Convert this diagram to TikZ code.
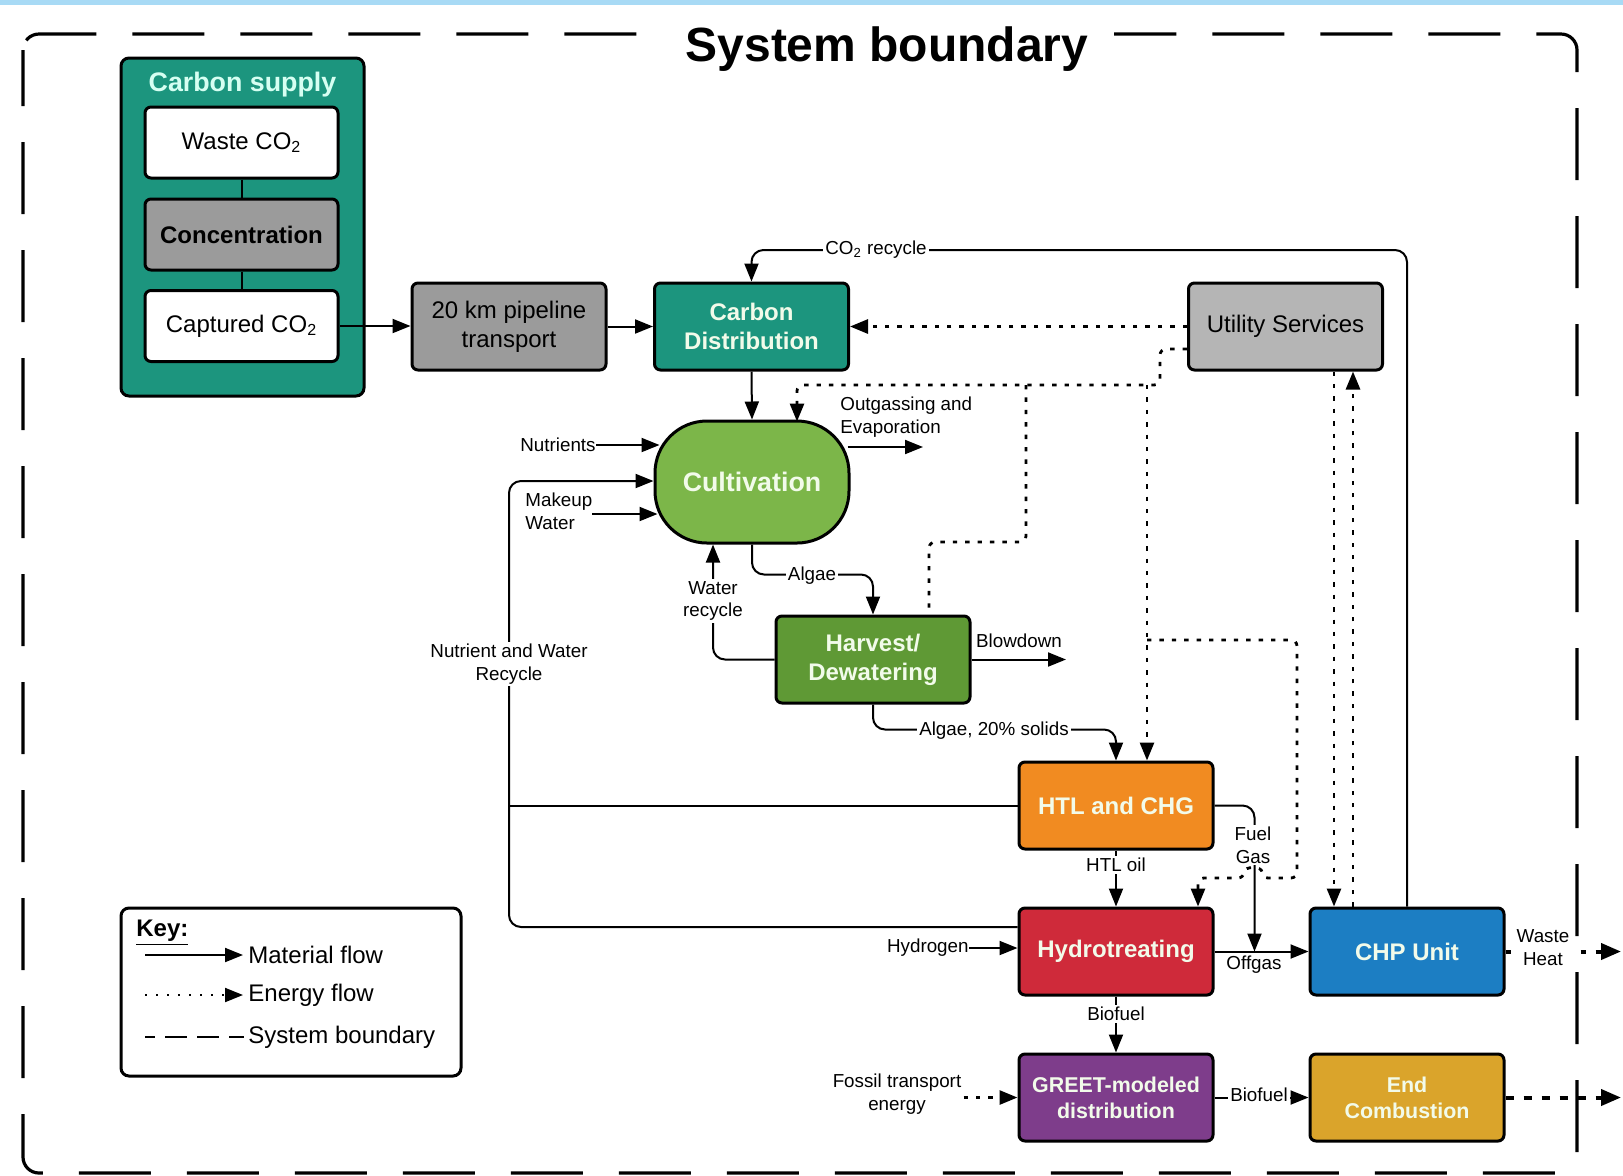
\documentclass[tikz,border=0pt]{standalone}
\usepackage{fontspec}
\setmainfont{Liberation Sans}
\usetikzlibrary{arrows.meta,calc}
\definecolor{tealc}{HTML}{1C957E}
\definecolor{grayc}{HTML}{9B9B9B}
\definecolor{utilc}{HTML}{B5B5B5}
\definecolor{cultc}{HTML}{7CB649}
\definecolor{harvc}{HTML}{5F9935}
\definecolor{htlc}{HTML}{F18B21}
\definecolor{hydc}{HTML}{CF2A3A}
\definecolor{chpc}{HTML}{1C7EC3}
\definecolor{greetc}{HTML}{7E3D8B}
\definecolor{goldc}{HTML}{DAA42B}
\definecolor{boxtext}{HTML}{F2FBEA}
\definecolor{supplytext}{HTML}{D6FFF2}
\definecolor{topblue}{HTML}{A8DAF5}
\begin{document}
\begin{tikzpicture}[x=0.5pt,y=-0.5pt,
  box/.style={draw=black, line width=1.5pt, rounded corners=3pt, minimum width=97pt, minimum height=43.5pt, align=center, inner sep=2pt, font=\bfseries\fontsize{12}{14.5}\selectfont, text=boxtext},
  sub/.style={draw=black, line width=1.5pt, rounded corners=3pt, minimum width=96.5pt, minimum height=35.5pt, align=center, inner sep=2pt, font=\fontsize{12}{14.5}\selectfont, text=black},
  plainfont/.style={font=\fontsize{12}{14.5}\selectfont},
  smallfont/.style={font=\fontsize{10.7}{13}\selectfont\bfseries},
  mat/.style={draw=black, line width=1pt, -{Triangle[length=9pt,width=7pt]}},
  solid line/.style={draw=black, line width=1pt},
  en/.style={draw=black, line width=1.4pt, dash pattern=on 2.2pt off 4pt, -{Triangle[length=9pt,width=7pt]}},
  enline/.style={draw=black, line width=1.4pt, dash pattern=on 2.2pt off 4pt},
  enbig/.style={draw=black, line width=2pt, dash pattern=on 4pt off 5pt, -{Triangle[length=10pt,width=8pt]}},
  lbl/.style={font=\fontsize{9.4}{11.4}\selectfont, inner sep=1pt, fill=white, align=center},
  lblnf/.style={font=\fontsize{9.4}{11.4}\selectfont, inner sep=1pt, align=center},
  bound/.style={draw=black, line width=1.6pt, dash pattern=on 36pt off 18pt, dash phase=8pt}
]
\useasboundingbox (0,0) rectangle (1623,1175);
\fill[topblue] (0,0) rectangle (1623,5);

% system boundary
\draw[bound, rounded corners=8pt] (23,34) rectangle (1577,1173);
\node[font=\bfseries\fontsize{24}{28}\selectfont, fill=white, inner xsep=13pt, inner ysep=2pt] (title) at (887,49) {System boundary};

% carbon supply group
\node[box, fill=tealc, minimum width=121.5pt, minimum height=169pt, rounded corners=4pt] (supply) at (242.5,227) {};
\node[font=\bfseries\fontsize{13.4}{16}\selectfont, text=supplytext] (supplyt) at (242.5,85) {Carbon supply};
\node[sub, fill=white] (waste) at (241.5,142.5) {Waste CO\textsubscript{2}};
\node[sub, fill=grayc, font=\bfseries\fontsize{12}{14.5}\selectfont] (conc) at (241.5,234.5) {Concentration};
\node[sub, fill=white] (capt) at (241.5,326) {Captured CO\textsubscript{2}};
\draw[solid line] (waste.south) -- (conc.north);
\draw[solid line] (conc.south) -- (capt.north);

% process boxes
\node[box, fill=grayc, text=black, plainfont] (pipe) at (509,326.5) {20 km pipeline\\transport};
\node[box, fill=tealc] (cdist) at (751.5,326.5) {Carbon\\Distribution};
\node[box, fill=utilc, text=black, plainfont] (util) at (1285.5,326.5) {Utility Services};
\node[box, fill=cultc, minimum height=61pt, rounded corners=26pt, font=\bfseries\fontsize{13.4}{16}\selectfont] (cult) at (752,482) {Cultivation};
\node[box, fill=harvc] (harv) at (873,659.5) {Harvest/\\Dewatering};
\node[box, fill=htlc] (htl) at (1116,805.5) {HTL and CHG};
\node[box, fill=hydc] (hydro) at (1116,951.5) {Hydrotreating};
\node[box, fill=chpc] (chp) at (1407,951.5) {CHP Unit};
\node[box, fill=greetc, smallfont] (greet) at (1116,1097.5) {GREET-modeled\\distribution};
\node[box, fill=goldc, smallfont] (endc) at (1407,1097.5) {End\\Combustion};

% free-end coordinates
\coordinate (r1) at (1407,250);
\coordinate (r2) at (751.5,250);
\coordinate (d1) at (1160,349);
\coordinate (d2) at (1160,385);
\coordinate (d3) at (797,385);
\coordinate (b1) at (1026,385);
\coordinate (b2) at (1026,542);
\coordinate (b3) at (929,542);
\coordinate (b4) at (1147,385);
\coordinate (b5) at (1147,640);
\coordinate (b6) at (1297,640);
\coordinate (b7) at (1297,878);
\coordinate (nw) at (509,481);
\coordinate (mws) at (592,514);
\coordinate (ogend) at (923,447);
\coordinate (bdend) at (1066,659.5);
\coordinate (whend) at (1621,951.5);
\coordinate (ecend) at (1621,1097.5);

% material flows
\draw[mat] (capt.east) -- (pipe.west |- capt.east);
\draw[mat] (pipe.east) -- (cdist.west);
\draw[mat, rounded corners=6pt] (chp.north) -- (r1) -- (r2) -- (cdist.north);
\draw[mat] (cdist.south) -- (cult.north);
\draw[mat] ($(cult.east)+(-3,-35)$) -- (ogend);
\draw[mat, rounded corners=6pt] (cult.south) |- ($(harv.north)+(0,-40)$) -- (harv.north);
\draw[mat, rounded corners=6pt] (harv.west) -| ($(cult.south)+(-39,0)$);
\draw[mat] (harv.east) -- (bdend);
\draw[mat, rounded corners=6pt] (harv.south) |- ($(htl.north)+(0,-31)$) -- (htl.north);
\draw[mat] (htl.south) -- (hydro.north);
\draw[mat, rounded corners=6pt] (htl.east) -| ($(hydro.east)+(40,0)$);
\draw[mat] (hydro.east) -- (chp.west);
\draw[mat] (hydro.south) -- (greet.north);
\draw[mat] (greet.east) -- (endc.west);
\draw[mat, rounded corners=6pt] ($(hydro.west)+(0,-24.5)$) -| (nw) -- (cult.west |- nw);
\draw[solid line] (htl.west) -- (htl.west -| nw);
\draw[mat] (mws) -- ($(cult.west)+(4,32)$);

% energy flows
\draw[en] (util.west) -- (cdist.east);
\draw[en, rounded corners=3pt] ($(util.west)+(0,22.5)$) -- (d1) -- (d2) -- (d3) -- ($(cult.north)+(45,2)$);
\draw[enline, rounded corners=3pt] (b1) -- (b2) -- (b3) -- ($(harv.north)+(56,0)$);
\draw[en] (b4) -- ($(htl.north)+(31,0)$);
\draw[en, rounded corners=3pt] (b5) -- (b6) -- (b7) -- (1262,878) .. controls (1262,866) and (1244,866) .. (1244,878) -- (1198,878) -- ($(hydro.north)+(82,0)$);
\draw[en] ($(util.south)+(48.5,0)$) -- ($(chp.north)+(-73,0)$);
\draw[en] ($(chp.north)+(-54,0)$) -- ($(util.south)+(67.5,0)$);
\draw[enbig, dash pattern=on 2.5pt off 5pt] (chp.east) -- (whend);
\draw[enbig] (endc.east) -- (ecend);

% input labels with arrows
\node[lblnf, anchor=east, inner sep=0pt] (nutr) at (596,445) {Nutrients};
\draw[mat] (nutr.east) -- ($(cult.west)+(6,-37)$);
\node[lblnf, anchor=west, align=left] (mw) at (523,511) {Makeup\\Water};
\node[lblnf, anchor=east, inner sep=0pt] (hyd) at (969,948) {Hydrogen};
\draw[mat] (hyd.east) -- (hydro.west |- hyd.east);
\node[lblnf] (fte) at (897,1094) {Fossil transport\\energy};
\draw[en] (fte.east |- greet.west) -- (greet.west);

% labels on connectors
\node[lbl] (lco2) at (876,250) {CO\textsubscript{2} recycle};
\node[lblnf, anchor=west, align=left] (log) at (838,417) {Outgassing and\\Evaporation};
\node[lbl] (lalg) at (812,576) {Algae};
\node[lbl] (lwr) at (713,601) {Water\\recycle};
\node[lblnf] (lbd) at (1019,641) {Blowdown};
\node[lbl] (lnwr) at (509,664) {Nutrient and Water\\Recycle};
\node[lbl] (lalg2) at (994,731) {Algae, 20\% solids};
\node[lbl] (lhtl) at (1116,865) {HTL oil};
\node[lbl] (lfg) at (1253,845) {Fuel\\Gas};
\node[lblnf] (loff) at (1254,965) {Offgas};
\node[lbl] (lbio) at (1116,1014) {Biofuel};
\node[lbl] (lbio2) at (1259,1095) {Biofuel};
\node[lbl, inner xsep=3pt] (lwh) at (1543,948) {Waste\\Heat};

% key
\node[draw=black, line width=1.5pt, rounded corners=4pt, minimum width=170pt, minimum height=84pt, fill=white] (key) at (291,992) {};
\node[anchor=west, font=\bfseries\fontsize{12}{14.5}\selectfont, inner sep=0pt] (keyt) at (136,933) {\underline{Key:}};
\node[anchor=west, plainfont, inner sep=0pt] (kmat) at (248,955) {Material flow};
\node[anchor=west, plainfont, inner sep=0pt] (ken) at (248,995) {Energy flow};
\node[anchor=west, plainfont, inner sep=0pt] (kbd) at (248,1037) {System boundary};
\draw[mat] ($(kmat.west)+(-103,0)$) -- ($(kmat.west)+(-5,0)$);
\draw[draw=black, line width=1pt, dash pattern=on 1pt off 4.5pt, -{Triangle[length=9pt,width=7pt]}] ($(ken.west)+(-103,0)$) -- ($(ken.west)+(-5,0)$);
\draw[draw=black, line width=1.3pt, dash pattern=on 5pt off 5pt on 11pt off 5pt on 11pt off 5pt on 7.5pt off 0.01pt] ($(kbd.west)+(-103,0)$) -- ($(kbd.west)+(-4,0)$);
\end{tikzpicture}
\end{document}
